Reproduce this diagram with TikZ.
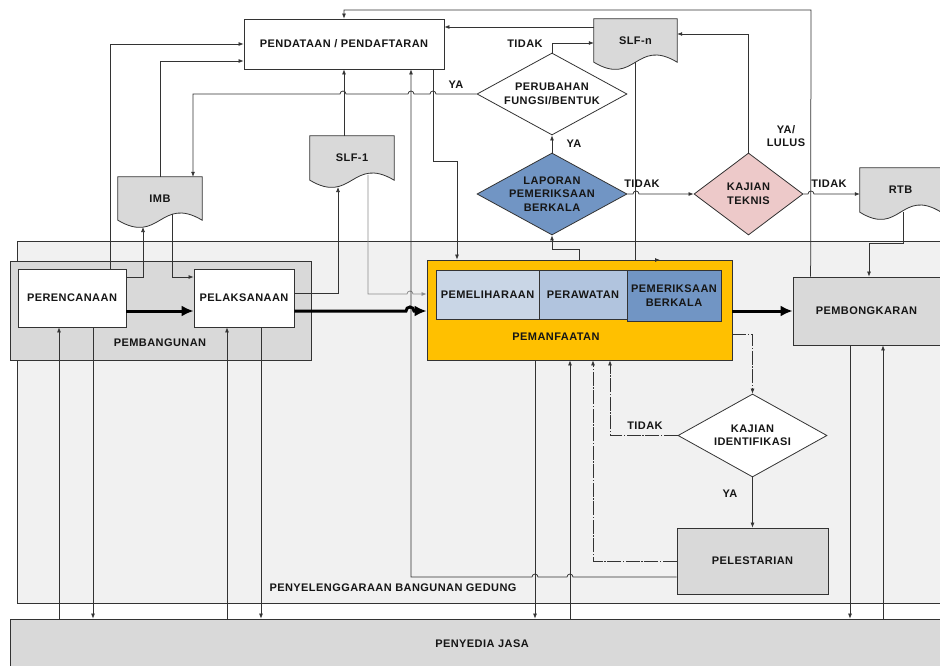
\documentclass[tikz,border=0pt]{standalone}
\usepackage{fontspec}
\setmainfont{Liberation Sans}[LetterSpace=4]
\usetikzlibrary{shapes.geometric,arrows.meta,calc}
\pgfdeclarelayer{bg}
\pgfsetlayers{bg,main}
\definecolor{linec}{HTML}{333333}
\definecolor{txtc}{HTML}{161616}
\definecolor{outerfill}{HTML}{F1F1F1}
\definecolor{grayfill}{HTML}{D9D9D9}
\definecolor{orangefill}{HTML}{FFC000}
\definecolor{pemelfill}{HTML}{C9D6E6}
\definecolor{perawfill}{HTML}{B1C4DE}
\definecolor{bluefill}{HTML}{7195C4}
\definecolor{pinkfill}{HTML}{EDC9C9}
\definecolor{grayline}{HTML}{8C8C8C}
\newcommand\dfont{\fontsize{11}{13.5}\selectfont\bfseries}
\newcommand\docshape[2]{%
  \begin{pgfonlayer}{bg}
  \draw[draw=linec, line width=0.8pt, fill=grayfill] (#1.north west) -- (#1.north east) -- (#1.south east)
    .. controls ($(#1.south east)+(-#2/2,-25)$) and ($(#1.south west)+(#2/2,25)$) .. (#1.south west) -- cycle;
  \end{pgfonlayer}}
\begin{document}
\begin{tikzpicture}[x=1pt,y=-1pt,
  box/.style={draw=linec, line width=0.8pt, align=center, inner sep=1pt, font=\dfont, text=txtc},
  docnode/.style={inner sep=0pt, font=\dfont, text=txtc, align=center},
  dia/.style={draw=linec, line width=0.8pt, diamond, inner sep=0pt},
  lbl/.style={inner sep=0pt, font=\dfont, text=txtc, align=center},
  arr/.style={-{Latex[length=5pt,width=4pt]}, draw=linec, line width=0.75pt},
  thickarr/.style={-{Latex[length=12pt,width=11pt]}, draw=black, line width=3pt},
  dd/.style={dash pattern=on 14pt off 1.5pt on 1.5pt off 1.5pt}
]
\useasboundingbox (0,0) rectangle (940,666);
\clip (0,0) rectangle (940,666);
\begin{pgfonlayer}{bg}
\fill[white] (0,0) rectangle (940,666);
\end{pgfonlayer}

% regions
\node[box, fill=outerfill, minimum width=943, minimum height=362, inner sep=0pt] (outer) at (488.5,422) {};
\node[lbl] (outerlbl) at (393,588) {PENYELENGGARAAN BANGUNAN GEDUNG};
\node[box, fill=grayfill, minimum width=944, minimum height=50, inner sep=0pt] (penyedia) at (482,644) {PENYEDIA JASA};
\node[box, fill=grayfill, minimum width=301, minimum height=99, inner sep=0pt] (pembang) at (160.5,310.5) {};
\node[lbl] (pembanglbl) at (160,343) {PEMBANGUNAN};

% main boxes
\node[box, fill=white, minimum width=200, minimum height=50] (pend) at (344,44) {PENDATAAN / PENDAFTARAN};
\node[box, fill=white, minimum width=108, minimum height=58] (perenc) at (72,298) {PERENCANAAN};
\node[box, fill=white, minimum width=100, minimum height=58] (pelak) at (244,298) {PELAKSANAAN};
\node[box, fill=orangefill, minimum width=305, minimum height=100] (pemanf) at (579.5,310) {};
\node[lbl] (pemanflbl) at (556,337) {PEMANFAATAN};
\node[box, fill=pemelfill, minimum width=103, minimum height=49, inner sep=0pt] (pemel) at (487.5,294.5) {PEMELIHARAAN};
\node[box, fill=perawfill, minimum width=88, minimum height=49, inner sep=0pt] (peraw) at (583,294.5) {PERAWATAN};
\node[box, fill=bluefill, minimum width=94, minimum height=51, inner sep=0pt] (pemer) at (674,295.5) {PEMERIKSAAN\\BERKALA};
\node[box, fill=grayfill, minimum width=147, minimum height=68] (pembong) at (866.5,311) {PEMBONGKARAN};
\node[box, fill=grayfill, minimum width=151, minimum height=66] (pelest) at (752.5,561) {PELESTARIAN};

% diamonds
\node[dia, fill=white, minimum width=150, minimum height=82] (perub) at (552,94) {};
\node[lbl] (perubtxt) at (perub) {PERUBAHAN\\FUNGSI/BENTUK};
\node[dia, fill=bluefill, minimum width=150, minimum height=82] (lapor) at (552,194) {};
\node[lbl] (laportxt) at (lapor) {LAPORAN\\PEMERIKSAAN\\BERKALA};
\node[dia, fill=pinkfill, minimum width=109, minimum height=82] (kajiant) at (748.5,194) {};
\node[lbl] (kajianttxt) at (kajiant) {KAJIAN\\TEKNIS};
\node[dia, fill=white, minimum width=149, minimum height=83] (kajiani) at (752.5,435.5) {};
\node[lbl] (kajianitxt) at (kajiani) {KAJIAN\\IDENTIFIKASI};

% documents
\node[docnode, minimum width=84, minimum height=43] (imb) at (160,198.5) {IMB};
\docshape{imb}{84}
\node[docnode, minimum width=84, minimum height=44] (slf1) at (352,158) {SLF-1};
\docshape{slf1}{84}
\node[docnode, minimum width=83, minimum height=43] (slfn) at (635.5,40.5) {SLF-n};
\docshape{slfn}{83}
\node[docnode, minimum width=81, minimum height=44] (rtb) at (900.5,190) {RTB};
\docshape{rtb}{81}

\coordinate (imbin) at (143,227);
\coordinate (imbout) at (172,214);
\coordinate (slf1in) at (338,187);
\coordinate (slf1out) at (368,175);
\coordinate (rtbout) at (903,212);

% connectors top
\draw[arr] ([xshift=18pt]pembong.north west) -- (811,10) -| (pend.north);
\draw[arr] (slfn.north west |- 0,27) -- (pend.east |- 0,27);
\draw[arr] (perub.north) |- (slfn.west |- 0,43);
\draw[arr] (perub.west) -- (436,94) arc[start angle=0,end angle=-180,radius=3]
  -- (414,94) arc[start angle=0,end angle=-180,radius=3]
  -- (346,94) arc[start angle=0,end angle=-180,radius=3]
  -- (193,94) -- (imb.north -| 193,0);
\draw[arr] (lapor.north) -- (perub.south);
\draw[arr] (lapor.east) -- (633,194) arc[start angle=180,end angle=360,radius=3] -- (kajiant.west);
\draw[arr] (kajiant.north) |- (slfn.east |- 0,34);
\draw[arr] (kajiant.east) -- (808,194) arc[start angle=180,end angle=360,radius=3] -- (rtb.west |- kajiant.east);
\draw[arr] (rtbout) |- (869,243) -- (pembong.north -| 869,0);
\draw[arr] (slfn.south) |- (660,260);
\draw[arr] ([xshift=38pt]perenc.north) |- (pend.west |- 0,44);
\draw[arr] (imb.north) |- (pend.west |- 0,61);
\draw[arr] (perenc.east |- 0,277) -| (imbin);
\draw[arr] (imbout) |- (pelak.west |- 0,277);
\draw[arr] (pelak.east |- 0,293) -| (slf1in);
\draw[arr] (slf1.north -| pend.south) -- (pend.south);
\draw[arr, draw=grayline] (slf1out) -- (368,294) -- (407,294) arc[start angle=180,end angle=360,radius=3] -- (pemanf.west |- 0,294);
\draw[arr] (pelest.west |- 0,577) -- (573,577) arc[start angle=0,end angle=-180,radius=3]
  -- (538,577) arc[start angle=0,end angle=-180,radius=3] -- (411,577) -- (pend.south -| 411,0);
\draw[arr] (pend.south -| 433,0) -- (433,161) -| (pemanf.north -| 457,0);
\draw[arr] (pemanf.north -| 579,0) -- (579,249) -| (lapor.south);

% bottom verticals
\draw[arr] (pembong.south -| 850,0) -- (penyedia.north -| 850,0);
\draw[arr] (penyedia.north -| 883,0) -- (pembong.south -| 883,0);
\draw[arr] (pemanf.south -| 535,0) -- (penyedia.north -| 535,0);
\draw[arr] (penyedia.north -| 570,0) -- (pemanf.south -| 570,0);
\draw[arr, dd] (pelest.west |- 0,561) -| (pemanf.south -| 593,0);
\draw[arr, dd] (kajiani.west) -| (pemanf.south -| 610,0);
\draw[arr, dd] (pemanf.east |- 0,334) -| (kajiani.north);
\draw[arr] (kajiani.south) -- (pelest.north);
\draw[arr] (penyedia.north -| 59,0) -- (perenc.south -| 59,0);
\draw[arr] (perenc.south -| 93,0) -- (penyedia.north -| 93,0);
\draw[arr] (penyedia.north -| 227,0) -- (pelak.south -| 227,0);
\draw[arr] (pelak.south -| 261,0) -- (penyedia.north -| 261,0);

% thick flow
\draw[thickarr] (perenc.east |- 0,311) -- (pelak.west |- 0,311);
\draw[thickarr] (pelak.east |- 0,311) -- (406,311) arc[start angle=180,end angle=360,radius=4] -- (pemanf.west |- 0,311);
\draw[thickarr] (pemanf.east |- 0,311) -- (pembong.west |- 0,311);

% labels
\node[lbl] (ltidak1) at (525,44) {TIDAK};
\node[lbl] (lya1) at (456,85) {YA};
\node[lbl] (lya2) at (574,144) {YA};
\node[lbl] (ltidak2) at (642,184) {TIDAK};
\node[lbl] (lyalulus) at (786,136) {YA/\\LULUS};
\node[lbl] (ltidak3) at (829,184) {TIDAK};
\node[lbl] (ltidak4) at (645,426) {TIDAK};
\node[lbl] (lya3) at (730,494) {YA};
\end{tikzpicture}
\end{document}
